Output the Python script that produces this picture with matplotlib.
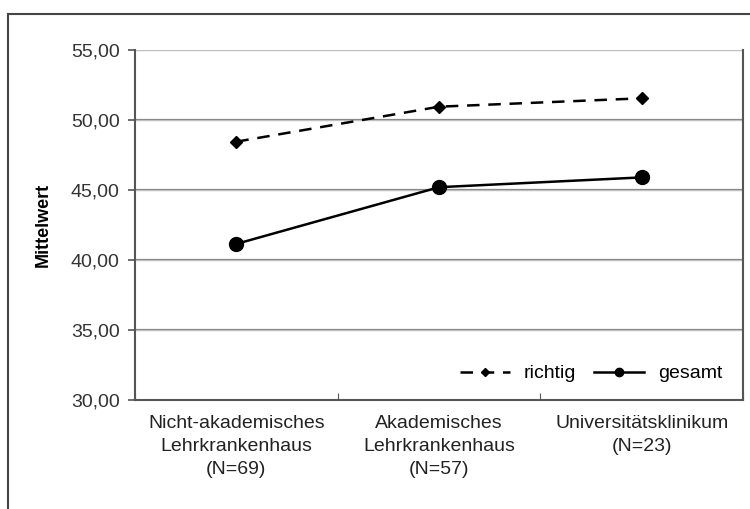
import matplotlib.pyplot as plt
from matplotlib.patches import Rectangle

# Data
categories = ['Nicht-akademisches\nLehrkrankenhaus\n(N=69)',
              'Akademisches\nLehrkrankenhaus\n(N=57)',
              'Universitätsklinikum\n(N=23)']
richtig = [48.45, 50.95, 51.55]
gesamt = [41.15, 45.2, 45.9]
yticks = [30, 35, 40, 45, 50, 55]
ytick_labels = ['30,00', '35,00', '40,00', '45,00', '50,00', '55,00']

plt.rcParams['font.family'] = ['Liberation Sans', 'DejaVu Sans']

fig = plt.figure(figsize=(7.5, 5.09), dpi=100)
ax = fig.add_axes([135 / 750, 1 - 400 / 509, (743 - 135) / 750, 350 / 509])

# outer frame of the chart
fig.patches.append(Rectangle((8 / 750, -0.1), 1.2, 1 - 14 / 509 + 0.1,
                             transform=fig.transFigure, fill=False,
                             edgecolor='#444444', linewidth=1.5))

x = [0.5, 1.5, 2.5]
ax.plot(x, richtig, color='black', linestyle=(0, (5, 3.5)), linewidth=1.8,
        marker='D', markersize=6.5, label='richtig')
ax.plot(x, gesamt, color='black', linestyle='-', linewidth=1.8,
        marker='o', markersize=10, label='gesamt')

fs = 14
ax.set_xlim(0, 3)
ax.set_ylim(30, 55)
ax.set_yticks(yticks)
ax.set_yticklabels(ytick_labels, fontsize=fs, color='#333333')
ax.set_xticks([0, 1, 2, 3])
ax.set_xticklabels([])
ax.set_xticks(x, minor=True)
ax.set_xticklabels(categories, minor=True, fontsize=fs, color='#222222',
                   linespacing=1.45)
ax.tick_params(axis='x', which='minor', length=0, pad=11)
ax.tick_params(axis='x', which='major', length=5, direction='in', color='#555555')
ax.tick_params(axis='y', length=5, color='#555555', width=1.2, pad=6)

for y in yticks[1:]:
    ax.axhline(y, color='#888888', linewidth=1.6, zorder=0)
    ax.axhline(y, color='#cccccc', linewidth=0.6, zorder=0)

for s in ['left', 'bottom', 'right']:
    ax.spines[s].set_color('#555555')
    ax.spines[s].set_linewidth(1.5)
ax.spines['top'].set_visible(False)

ax.set_ylabel('Mittelwert', fontsize=13, fontweight='bold', labelpad=14)

ax.legend(loc='lower right', ncol=2, frameon=False, fontsize=fs,
          handlelength=2.6, columnspacing=0.9, handletextpad=0.7,
          markerscale=0.6, bbox_to_anchor=(0.995, 0.0))

fig.savefig('out.png', dpi=100)
